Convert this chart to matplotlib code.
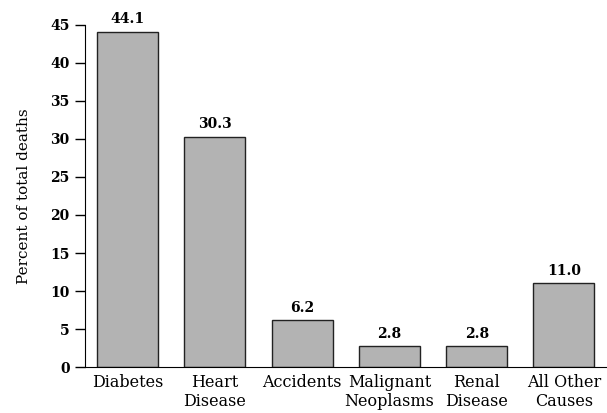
import matplotlib
matplotlib.use('Agg')
import matplotlib.pyplot as plt

# 数据
causes = ['Diabetes', 'Heart\nDisease', 'Accidents', 'Malignant\nNeoplasms', 'Renal\nDisease', 'All Other\nCauses']
percents = [44.1, 30.3, 6.2, 2.8, 2.8, 11.0]
y_ticks = [0, 5, 10, 15, 20, 25, 30, 35, 40, 45]

plt.rcParams['font.family'] = ['DejaVu Serif']

fig = plt.figure(figsize=(6.07, 4.13), dpi=100)
ax = fig.add_axes([0.140, 0.111, 0.858, 0.829])

x = range(len(causes))
ax.bar(x, percents, width=0.7, color='#b3b3b3', edgecolor='#222222', linewidth=1.0)

# 柱顶数值标签
for xi, v in zip(x, percents):
    ax.text(xi, v + 0.7, f'{v:.1f}', ha='center', va='bottom', fontsize=10, fontweight='bold')

ax.set_xlim(-0.49, 5.48)
ax.set_ylim(0, 45)
ax.set_yticks(y_ticks)
ax.set_xticks(list(x))
ax.set_xticklabels(causes, fontsize=11.5, linespacing=1.15)
ax.tick_params(axis='x', length=0, pad=5)
ax.tick_params(axis='y', length=7, width=1, labelsize=10, direction='out', pad=4)
for lbl in ax.get_yticklabels():
    lbl.set_fontweight('bold')

ax.spines['top'].set_visible(False)
ax.spines['right'].set_visible(False)
ax.set_ylabel('Percent of total deaths', fontsize=11, labelpad=14)

fig.savefig('out.png', dpi=100)
